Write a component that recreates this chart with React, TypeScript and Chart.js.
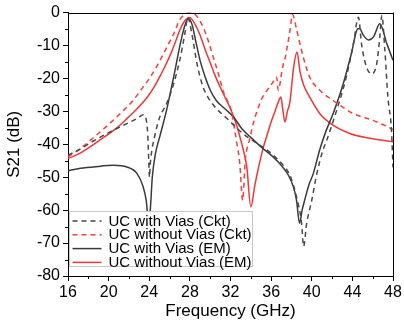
import React, { useEffect, useRef } from "react";
import { Chart, registerables } from "chart.js";

Chart.register(...registerables);

const FONT = "'Liberation Sans', Arial, sans-serif";

const seriesLabels = [
  "UC with Vias (Ckt)",
  "UC without Vias (Ckt)",
  "UC with Vias (EM)",
  "UC without Vias (EM)",
];

const xTicks = [16, 20, 24, 28, 32, 36, 40, 44, 48];
const yTicks = [-80, -70, -60, -50, -40, -30, -20, -10, 0];

// [frequency GHz, S21 dB]
const ckWithVias: number[][] = [
  [16, -43.3], [17, -41.8], [18.5, -39], [20.1, -36.3], [21.8, -33.7], [23.0, -31.8],
  [23.4, -31], [23.7, -32.5], [23.85, -37], [23.95, -45], [24.02, -50], [24.1, -46],
  [24.25, -42], [24.5, -38], [25.0, -32], [25.7, -27.7], [26.4, -21.6], [27.0, -14.5],
  [27.5, -6.5], [27.8, -1.5], [28.2, -6.5], [28.7, -15.5], [29.3, -22.6], [30.3, -28],
  [31.6, -32], [33.25, -36.8], [34.5, -39.5], [35.5, -41.5], [36.2, -43.3], [37.2, -46.4],
  [37.85, -49.4], [38.5, -56], [39.0, -64], [39.2, -71], [39.5, -64], [40.0, -57],
  [40.5, -48.9], [41.1, -41.8], [41.45, -39], [42.45, -29.7], [43.4, -19.6], [44.1, -9.5],
  [44.6, -1.4], [44.9, -9.5], [45.4, -16.6], [45.9, -18.6], [46.4, -15.5], [46.7, -7.5],
  [46.9, -0.9], [47.2, -11.5], [47.5, -25.7], [47.85, -35.8], [48, -47],
];

const ckWithoutVias: number[][] = [
  [16, -43.8], [17.2, -41.3], [18.5, -38], [20.1, -33.7], [21.3, -30.2], [22.4, -26.7],
  [23.3, -23], [24.1, -19.6], [24.8, -16], [25.4, -12.5], [25.9, -9.5], [26.4, -6.5],
  [27.0, -2.2], [27.6, -0.3], [28.1, 0], [28.6, -0.8], [29.3, -4.4], [29.8, -8.5],
  [30.3, -13.5], [30.8, -18.5], [31.3, -24], [32.1, -30.2], [32.6, -39.3], [32.9, -45.4],
  [33.2, -57], [33.45, -45], [33.9, -38.3], [34.3, -33], [34.7, -29.2], [35.1, -26],
  [35.6, -23.6], [36.1, -21.5], [36.54, -19.6], [36.7, -23.5], [36.85, -22], [37.1, -17],
  [37.4, -13.5], [37.85, -5.5], [38.1, -0.6], [38.5, -5], [38.8, -9], [39.16, -13.5],
  [39.8, -19.6], [40.8, -23.6], [42.1, -26.7], [43.1, -28.8], [44.1, -30.7], [46.0, -32.7],
  [47, -34], [48, -35.5],
];

const emWithVias: number[][] = [
  [16, -48], [17, -47.4], [18.5, -46.9], [20.5, -46.4], [21.8, -46.9], [22.8, -48.9],
  [23.4, -52.9], [23.7, -57], [23.95, -64], [24.1, -60], [24.3, -50], [24.6, -43],
  [25.05, -37.5], [25.7, -29.7], [26.4, -19.6], [27.05, -9.6], [27.5, -4], [27.85, -1.8],
  [28.2, -3.5], [28.6, -9], [29.0, -14.5], [29.5, -19.5], [30.0, -23.5], [30.6, -26.7],
  [31.45, -29.2], [32.3, -31.7], [33.1, -35.2], [34.1, -38.2], [35.2, -41.3], [36.0, -43.3],
  [36.7, -45.4], [37.2, -47.2], [37.7, -49.4], [38.2, -53], [38.5, -57], [38.8, -64],
  [39.05, -60], [39.3, -57], [39.7, -52.5], [40.15, -48.9], [40.8, -41.5], [41.4, -36],
  [42.1, -30.7], [43.1, -21.6], [43.9, -12.5], [44.5, -5], [44.7, -4.8], [45.1, -7],
  [45.6, -8.3], [46.1, -7.3], [46.7, -3.4], [47.4, -9.5], [48, -14.5],
];

const emWithoutVias: number[][] = [
  [16, -44.3], [17, -43], [17.9, -41.3], [19, -39], [19.8, -37.3], [20.8, -35],
  [21.8, -32.2], [22.8, -29.2], [23.8, -25.7], [24.5, -22.5], [25.1, -19.1], [25.6, -16],
  [26.1, -12.6], [26.6, -8.7], [27.05, -5], [27.5, -2.5], [27.97, -1.5], [28.5, -3.5],
  [29.0, -6.8], [29.5, -11.2], [30.0, -15.2], [30.5, -19.3], [31.0, -22.7], [31.5, -26],
  [32.0, -29.2], [32.6, -34.2], [33.1, -39.8], [33.6, -46.8], [34.0, -59], [34.4, -52.4],
  [34.8, -46.5], [35.2, -41.3], [35.6, -37.2], [36.0, -33.2], [36.4, -29.8], [36.7, -27.2],
  [36.96, -25.6], [37.15, -29.5], [37.36, -33.2], [37.6, -30], [37.85, -27.2], [38.2, -17],
  [38.55, -12], [38.85, -18], [39.2, -22], [39.8, -25.7], [40.8, -30.7], [42.1, -34.2],
  [43.8, -36.8], [45.4, -38], [48, -39.2],
];

const seriesData = [ckWithVias, ckWithoutVias, emWithVias, emWithoutVias];
const seriesColors = ["#484848", "#ff3b3b", "#3a3a3a", "#f53535"];
const seriesDash = [[5, 4], [5, 4], [], []];

const xMinor = [18, 22, 26, 30, 34, 38, 42, 46];
const yMinor = [-75, -65, -55, -45, -35, -25, -15, -5];

const framePlugin = {
  id: "frameAndMinor",
  afterDraw(chart: any) {
    const { ctx, chartArea: ca } = chart;
    const xs = chart.scales.x;
    const ys = chart.scales.y;
    ctx.save();
    ctx.strokeStyle = "#000";
    ctx.lineWidth = 1;
    ctx.beginPath();
    ctx.moveTo(ca.left, Math.round(ca.top) + 0.5);
    ctx.lineTo(ca.right, Math.round(ca.top) + 0.5);
    ctx.moveTo(Math.round(ca.right) + 0.5, ca.top);
    ctx.lineTo(Math.round(ca.right) + 0.5, ca.bottom);
    for (const v of xMinor) {
      const px = Math.round(xs.getPixelForValue(v)) + 0.5;
      ctx.moveTo(px, ca.bottom);
      ctx.lineTo(px, ca.bottom + 3);
    }
    for (const v of yMinor) {
      const py = Math.round(ys.getPixelForValue(v)) + 0.5;
      ctx.moveTo(ca.left, py);
      ctx.lineTo(ca.left - 3, py);
    }
    ctx.stroke();
    ctx.restore();
  },
};

const legendPlugin = {
  id: "insideLegend",
  afterDatasetsDraw(chart: any) {
    const { ctx, chartArea: ca } = chart;
    const bx = ca.left + 1.5;
    const by = 211.5;
    const bw = 183;
    const bh = 55;
    ctx.save();
    ctx.fillStyle = "#fff";
    ctx.fillRect(bx, by, bw, bh);
    ctx.strokeStyle = "#c8c8c8";
    ctx.lineWidth = 1;
    ctx.strokeRect(bx, by, bw, bh);
    ctx.font = `15px ${FONT}`;
    ctx.textBaseline = "middle";
    ctx.textAlign = "left";
    chart.data.datasets.forEach((ds: any, i: number) => {
      const cy = 221 + i * 13.8;
      ctx.beginPath();
      ctx.setLineDash(ds.borderDash || []);
      ctx.strokeStyle = ds.borderColor;
      ctx.lineWidth = ds.borderWidth;
      ctx.moveTo(bx + 3, cy);
      ctx.lineTo(bx + 32, cy);
      ctx.stroke();
      ctx.setLineDash([]);
      ctx.fillStyle = "#000";
      ctx.fillText(ds.label, bx + 39, cy + 0.5);
    });
    ctx.restore();
  },
};

export default function App() {
  const ref = useRef<HTMLCanvasElement | null>(null);
  useEffect(() => {
    document.body.style.margin = "0";
    const canvas = ref.current;
    if (!canvas) return;
    const chart = new Chart(canvas, {
      type: "line",
      data: {
        datasets: seriesLabels.map((label, i) => ({
          label,
          data: seriesData[i].map(([x, y]) => ({ x, y })),
          borderColor: seriesColors[i],
          backgroundColor: seriesColors[i],
          borderWidth: 1.5,
          borderDash: seriesDash[i],
          pointRadius: 0,
          fill: false,
          cubicInterpolationMode: "monotone",
        })),
      },
      options: {
        animation: false,
        responsive: false,
        maintainAspectRatio: false,
        layout: { padding: { top: 12, right: 11, left: 0, bottom: 0 } },
        plugins: {
          legend: { display: false },
          tooltip: { enabled: false },
        },
        scales: {
          x: {
            type: "linear",
            min: 16,
            max: 48,
            afterFit: (s: any) => { s.height = 50; },
            afterBuildTicks: (s: any) => { s.ticks = xTicks.map((v) => ({ value: v })); },
            ticks: { color: "#000", font: { family: FONT, size: 16 }, padding: 2, maxRotation: 0, autoSkip: false },
            grid: { display: true, drawOnChartArea: false, drawTicks: true, tickLength: 5, color: "#000" },
            border: { display: true, color: "#000", width: 1 },
            title: { display: true, text: "Frequency (GHz)", color: "#000", font: { family: FONT, size: 17 }, padding: { top: 0, bottom: 4 } },
          },
          y: {
            type: "linear",
            min: -80,
            max: 0,
            afterFit: (s: any) => { s.width = 68; },
            afterBuildTicks: (s: any) => { s.ticks = yTicks.map((v) => ({ value: v })); },
            ticks: { color: "#000", font: { family: FONT, size: 16 }, padding: 3, autoSkip: false },
            grid: { display: true, drawOnChartArea: false, drawTicks: true, tickLength: 5, color: "#000" },
            border: { display: true, color: "#000", width: 1 },
            title: { display: true, text: "S21 (dB)", color: "#000", font: { family: FONT, size: 17 }, padding: { top: 4, bottom: 0 } },
          },
        },
      },
      plugins: [framePlugin, legendPlugin],
    } as any);
    return () => chart.destroy();
  }, []);
  return (
    <div style={{ width: 404, height: 326 }}>
      <canvas ref={ref} width={404} height={326} style={{ display: "block", width: 404, height: 326 }} />
    </div>
  );
}
